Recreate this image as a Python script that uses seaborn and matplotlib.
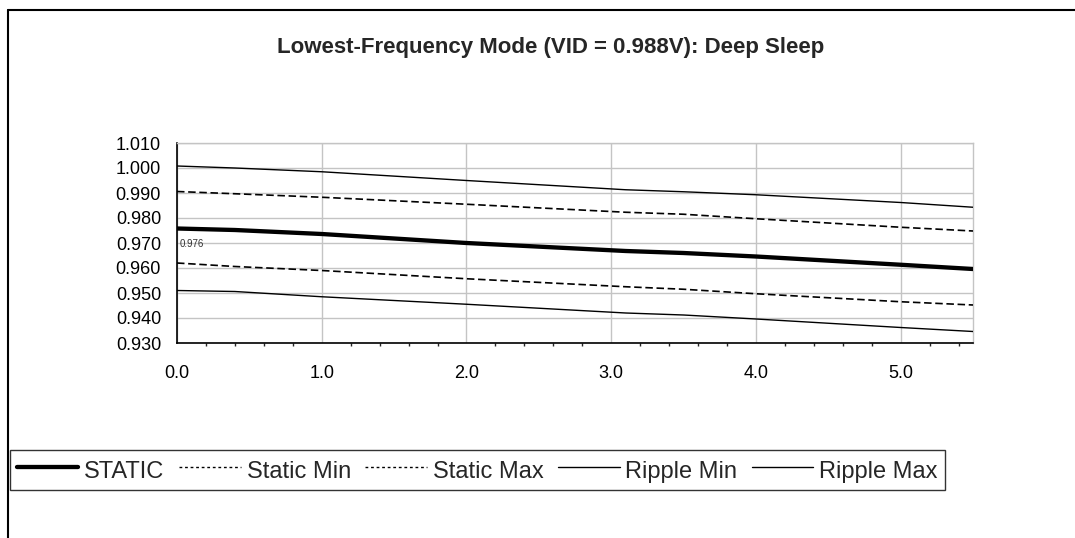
import numpy as np
import pandas as pd
import matplotlib
matplotlib.use('Agg')
import matplotlib.pyplot as plt
import seaborn as sns
from matplotlib.lines import Line2D
from matplotlib.ticker import MultipleLocator, FormatStrFormatter

# ── data ──────────────────────────────────────────────────────────────────────
time_ms    = [0.0, 0.4, 1.0, 2.0, 3.1, 3.5, 4.0, 5.0, 5.5]
static     = [0.9758, 0.9752, 0.9736, 0.9700, 0.9668, 0.9660, 0.9646, 0.9613, 0.9596]
static_min = [0.9620, 0.9606, 0.9590, 0.9557, 0.9525, 0.9515, 0.9497, 0.9465, 0.9452]
static_max = [0.9906, 0.9897, 0.9883, 0.9855, 0.9823, 0.9815, 0.9797, 0.9763, 0.9748]
ripple_min = [0.9510, 0.9506, 0.9485, 0.9455, 0.9420, 0.9412, 0.9396, 0.9362, 0.9346]
ripple_max = [1.0008, 1.0000, 0.9985, 0.9950, 0.9913, 0.9905, 0.9893, 0.9862, 0.9843]
series_names = ['STATIC', 'Static Min', 'Static Max', 'Ripple Min', 'Ripple Max']
title = 'Lowest-Frequency Mode (VID = 0.988V): Deep Sleep'

df = pd.DataFrame({'t': time_ms, 'STATIC': static, 'Static Min': static_min,
                   'Static Max': static_max, 'Ripple Min': ripple_min,
                   'Ripple Max': ripple_max})
long = df.melt(id_vars='t', var_name='series', value_name='v')

sns.set_style('white')
plt.rcParams['font.family'] = ['Liberation Sans', 'DejaVu Sans']

fig = plt.figure(figsize=(10.75, 5.38), dpi=100)
ax = fig.add_axes([177/1075, 1 - 343/538, (973 - 177)/1075, (343 - 143)/538])

styles = {
    'STATIC':     dict(lw=3.1, ls='-'),
    'Static Min': dict(lw=1.2, ls=(0, (4.5, 2.2))),
    'Static Max': dict(lw=1.2, ls=(0, (4.5, 2.2))),
    'Ripple Min': dict(lw=1.0, ls='-'),
    'Ripple Max': dict(lw=1.0, ls='-'),
}
for name in series_names:
    sub = long[long['series'] == name]
    sns.lineplot(data=sub, x='t', y='v', ax=ax, color='black',
                 linewidth=styles[name]['lw'], linestyle=styles[name]['ls'],
                 legend=False, zorder=3)

ax.set_xlim(0, 5.5)
ax.set_ylim(0.930, 1.010)
ax.xaxis.set_major_locator(MultipleLocator(1.0))
ax.xaxis.set_minor_locator(MultipleLocator(0.2))
ax.yaxis.set_major_locator(MultipleLocator(0.01))
ax.xaxis.set_major_formatter(FormatStrFormatter('%.1f'))
ax.yaxis.set_major_formatter(FormatStrFormatter('%.3f'))
ax.set_xlabel('')
ax.set_ylabel('')
ax.grid(True, which='major', color='#c4c4c4', linewidth=1.0, zorder=0)
ax.set_axisbelow(True)
ax.tick_params(axis='both', labelsize=13, colors='black', direction='out')
ax.tick_params(axis='y', length=4.5, width=1, pad=7)
ax.tick_params(axis='x', which='major', length=4.5, width=1, pad=11)
ax.tick_params(axis='x', which='minor', length=2.5, width=1, bottom=True)
for side in ['left', 'bottom']:
    ax.spines[side].set_color('black')
    ax.spines[side].set_linewidth(1.2)
for side in ['top', 'right']:
    ax.spines[side].set_color('#c4c4c4')
    ax.spines[side].set_linewidth(1.0)

# data label at first STATIC point
ax.annotate(f'{static[0]:.3f}', xy=(time_ms[0], static[0]), xytext=(2, -11),
            textcoords='offset points', fontsize=7, color='#333333',
            va='center', ha='left')

fig.text(551/1075, 1 - 47/538, title, ha='center', va='center',
         fontsize=16, fontweight='bold')

# outer chart-area frame (partially cropped)
fig.add_artist(Line2D([8/1075, 1.0], [1 - 10/538, 1 - 10/538],
                      transform=fig.transFigure, color='black', lw=1.5))
fig.add_artist(Line2D([8/1075, 8/1075], [0.0, 1 - 10/538],
                      transform=fig.transFigure, color='black', lw=1.5))

handles = []
for n in series_names:
    if n.startswith('Static '):
        handles.append(Line2D([], [], color='black', lw=1.0, ls=(0, (2, 2))))
    else:
        handles.append(Line2D([], [], color='black', lw=styles[n]['lw'], ls='-'))
leg = fig.legend(handles, series_names, ncol=5, loc='upper left',
                 bbox_to_anchor=(10/1075, 1 - 450/538),
                 fontsize=17, frameon=True, fancybox=False,
                 handlelength=2.6, handletextpad=0.25, borderpad=0.3,
                 handleheight=1.25, columnspacing=0.62, borderaxespad=0)
leg.get_frame().set_edgecolor('black')
leg.get_frame().set_linewidth(1.0)

fig.savefig('out.png', dpi=100)
